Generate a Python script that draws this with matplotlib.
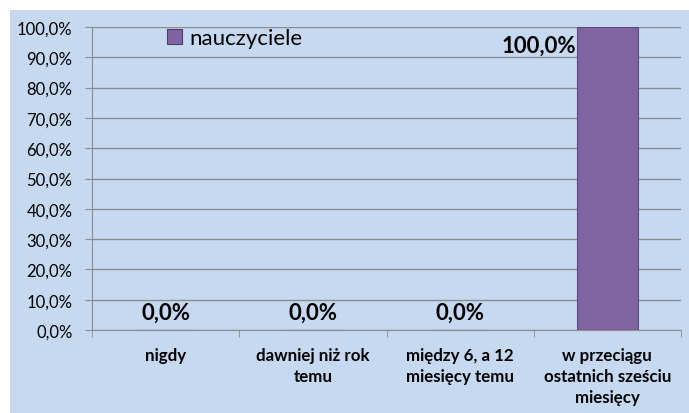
import matplotlib
matplotlib.use("Agg")
import matplotlib.pyplot as plt
from matplotlib.patches import Rectangle
import numpy as np

categories = ["nigdy", "dawniej niż rok\ntemu", "między 6, a 12\nmiesięcy temu",
              "w przeciągu\nostatnich sześciu\nmiesięcy"]
values = [0.0, 0.0, 0.0, 100.0]
series_name = "nauczyciele"
yticks = [0, 10, 20, 30, 40, 50, 60, 70, 80, 90, 100]

plt.rcParams['font.family'] = ['Lato', 'DejaVu Sans']

W, H = 689, 414
fig = plt.figure(figsize=(W/100, H/100), dpi=100)
fig.patch.set_facecolor("white")
bg = "#C6D9F1"
fig.patches.append(Rectangle((10/W, 0), 1 - 10/W, 1 - 11/H, transform=fig.transFigure,
                             facecolor=bg, edgecolor="none", zorder=-10))

ax = fig.add_axes([92/W, 1 - 331/H, (681-92)/W, (331-28)/H])
ax.set_facecolor(bg)
x = np.arange(len(categories))
bars = ax.bar(x, values, width=0.41, color="#8064A2", edgecolor="#5F4A7C", linewidth=0.8,
              label=series_name, zorder=3)
ax.set_xlim(-0.5, len(categories) - 0.5)
ax.set_ylim(0, 100)
ax.set_yticks(yticks)
ax.set_yticklabels([f"{v:.1f}".replace(".", ",") + "%" for v in yticks], fontsize=12)
ax.yaxis.grid(True, color="#8C8C8C", linewidth=1, zorder=0)
ax.set_axisbelow(True)
for s in ["top", "right"]:
    ax.spines[s].set_visible(False)
ax.spines["left"].set_color("#8C8C8C")
ax.spines["bottom"].set_color("#8C8C8C")
ax.tick_params(axis="y", length=5, color="#8C8C8C", pad=9)
ax.set_xticks(np.arange(len(categories) + 1) - 0.5, minor=True)
ax.set_xticks(x)
ax.set_xticklabels(categories, fontsize=12.2, fontweight="bold", linespacing=1.4)
ax.tick_params(axis="x", which="major", length=0, pad=12)
ax.tick_params(axis="x", which="minor", length=5, color="#8C8C8C")

for xi, v in zip(x, values):
    lbl = f"{v:.1f}".replace(".", ",") + "%"
    if v >= 50:
        ax.text(xi - 0.215, v - 2.5, lbl, ha="right", va="top", fontsize=16, fontweight="bold")
    else:
        ax.text(xi, v + 2.3, lbl, ha="center", va="bottom", fontsize=16, fontweight="bold")

leg = ax.legend(loc="upper left", bbox_to_anchor=(0.113, 1.025), frameon=False, fontsize=16,
                handlelength=0.65, handleheight=0.65, handletextpad=0.35, borderaxespad=0)
for h in leg.legend_handles:
    h.set_edgecolor("#4F3B6B")
    h.set_linewidth(0.8)

fig.savefig("out.png", dpi=100, facecolor=fig.get_facecolor())
